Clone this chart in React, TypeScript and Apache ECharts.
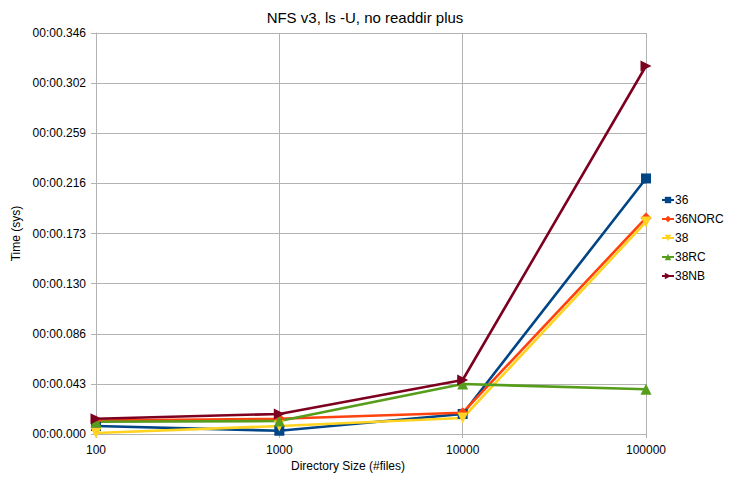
import React, { useEffect, useRef } from "react";
import * as echarts from "echarts";

const sizes = [100, 1000, 10000, 100000];
const s36 = [0.0069, 0.0028, 0.0173, 0.2205];
const s36NORC = [0.0115, 0.0132, 0.0184, 0.1864];
const s38 = [0.0008, 0.0069, 0.0138, 0.1830];
const s38RC = [0.0106, 0.0112, 0.0431, 0.0386];
const s38NB = [0.0132, 0.0173, 0.0466, 0.3175];
const yTickLabels = [
  "00:00.000", "00:00.043", "00:00.086", "00:00.130", "00:00.173",
  "00:00.216", "00:00.259", "00:00.302", "00:00.346",
];
const yMax = 0.346;
const yInterval = yMax / 8;

const seriesDefs = [
  { name: "36", data: s36, color: "#004586", symbol: "rect", rotate: 0, size: 10 },
  { name: "36NORC", data: s36NORC, color: "#ff420e", symbol: "diamond", rotate: 0, size: 11 },
  { name: "38", data: s38, color: "#ffd320", symbol: "triangle", rotate: 180, size: 11 },
  { name: "38RC", data: s38RC, color: "#579d1c", symbol: "triangle", rotate: 0, size: 11 },
  { name: "38NB", data: s38NB, color: "#7e0021", symbol: "triangle", rotate: -90, size: 11 },
];

const FONT = "Liberation Sans";

export default function App() {
  const ref = useRef<HTMLDivElement>(null);
  useEffect(() => {
    if (!ref.current) return;
    const chart = echarts.init(ref.current, null, { renderer: "svg" });
    chart.setOption({
      animation: false,
      backgroundColor: "#ffffff",
      textStyle: { fontFamily: FONT },
      title: {
        text: "NFS v3, ls -U, no readdir plus",
        left: "center",
        top: 5,
        textStyle: { fontFamily: FONT, fontSize: 15, fontWeight: "normal", color: "#000" },
      },
      grid: { left: 96, right: 84, top: 33, bottom: 44, containLabel: false },
      legend: {
        orient: "vertical",
        left: 656,
        top: 188,
        itemWidth: 12,
        itemHeight: 8,
        itemGap: 5,
        textStyle: { fontFamily: FONT, fontSize: 12, color: "#000", lineHeight: 14, padding: [0, 0, 0, -4] },
        data: seriesDefs.map((s) => s.name),
      },
      graphic: [
        {
          type: "text",
          left: 291,
          top: 460,
          style: { text: "Directory Size (#files)", font: `12px "${FONT}"`, fill: "#000" },
        },
      ],
      xAxis: {
        type: "log",
        logBase: 10,
        min: 100,
        max: 100000,
        axisLine: { lineStyle: { color: "#b3b3b3", width: 1 } },
        axisTick: { show: true, length: 4, lineStyle: { color: "#b3b3b3" } },
        splitLine: { show: true, lineStyle: { color: "#b3b3b3", width: 1 } },
        minorTick: { show: false },
        axisLabel: {
          fontFamily: FONT,
          fontSize: 12,
          color: "#000",
          margin: 10,
          formatter: (v: number) => String(Math.round(v)),
        },
      },
      yAxis: {
        type: "value",
        min: 0,
        max: yMax,
        interval: yInterval,
        name: "Time (sys)",
        nameLocation: "middle",
        nameRotate: 90,
        nameGap: 64,
        nameTextStyle: { fontFamily: FONT, fontSize: 12, color: "#000" },
        axisLine: { show: true, lineStyle: { color: "#b3b3b3", width: 1 } },
        axisTick: { show: true, length: 5, lineStyle: { color: "#b3b3b3" } },
        splitLine: { show: true, lineStyle: { color: "#b3b3b3", width: 1 } },
        axisLabel: {
          fontFamily: FONT,
          fontSize: 12,
          color: "#000",
          margin: 10,
          formatter: (v: number) => yTickLabels[Math.round(v / yInterval)] ?? "",
        },
      },
      series: seriesDefs.map((s) => ({
        name: s.name,
        type: "line",
        data: sizes.map((x, i) => [x, s.data[i]]),
        symbol: s.symbol,
        symbolRotate: s.rotate,
        symbolSize: s.size,
        showAllSymbol: true,
        color: s.color,
        lineStyle: { color: s.color, width: 2.6 },
        itemStyle: { color: s.color },
        emphasis: { disabled: true },
      })),
    });
    return () => chart.dispose();
  }, []);
  return <div ref={ref} style={{ width: 730, height: 478, position: "absolute", left: 0, top: 0 }} />;
}
